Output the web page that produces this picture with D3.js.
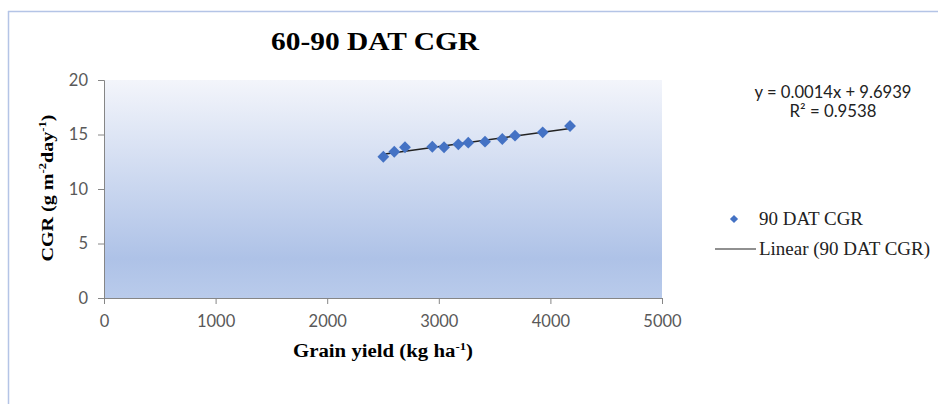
<!DOCTYPE html>
<html><head><meta charset="utf-8">
<script src="https://cdn.jsdelivr.net/npm/d3@7"></script>
<style>body{margin:0;background:#fff}svg{display:block}</style>
</head><body>
<svg id="c" width="938" height="404"></svg>
<script>
const grainYield = [2503, 2601, 2697, 2942, 3047, 3175, 3264, 3414, 3569, 3683, 3931, 4176];
const cgr = [12.96, 13.42, 13.83, 13.88, 13.83, 14.10, 14.25, 14.34, 14.59, 14.89, 15.20, 15.78];
const xTicks = [0, 1000, 2000, 3000, 4000, 5000];
const yTicks = [0, 5, 10, 15, 20];
const slope = 0.0014, intercept = 9.6939;
const equationLines = ["y = 0.0014x + 9.6939", "R² = 0.9538"];
const legendLabels = ["90 DAT CGR", "Linear (90 DAT CGR)"];

const svg = d3.select("#c");
const L = 104, R = 662, T = 80, B = 298;
const x = d3.scaleLinear().domain([0, 5000]).range([L, R]);
const y = d3.scaleLinear().domain([0, 20]).range([B, T]);

// outer border
svg.append("line").attr("x1", 8).attr("x2", 938).attr("y1", 11.5).attr("y2", 11.5).attr("stroke", "#b4c4e6").attr("stroke-width", 1.5);
svg.append("line").attr("x1", 8.5).attr("x2", 8.5).attr("y1", 11).attr("y2", 404).attr("stroke", "#b4c4e6").attr("stroke-width", 1.5);

const defs = svg.append("defs");
const g = defs.append("linearGradient").attr("id", "bg").attr("x1", 0).attr("x2", 0).attr("y1", 0).attr("y2", 1);
g.append("stop").attr("offset", "0%").attr("stop-color", "#f3f5fb");
g.append("stop").attr("offset", "82%").attr("stop-color", "#aec2e7");
g.append("stop").attr("offset", "100%").attr("stop-color", "#b9cbeb");
svg.append("rect").attr("x", L).attr("y", T).attr("width", R - L).attr("height", B - T).attr("fill", "url(#bg)");

const tickFont = "Lato, 'Open Sans', sans-serif";
const serif = "'Liberation Serif', 'DejaVu Serif', serif";
const xa = svg.append("g").attr("transform", `translate(0,${B})`)
  .call(d3.axisBottom(x).tickValues(xTicks).tickSize(6).tickPadding(11).tickFormat(d3.format("d")));
const ya = svg.append("g").attr("transform", `translate(${L},0)`)
  .call(d3.axisLeft(y).tickValues(yTicks).tickSize(6).tickPadding(10).tickFormat(d3.format("d")));
[xa, ya].forEach(a => {
  a.select(".domain").attr("stroke", "#868686");
  a.selectAll(".tick line").attr("stroke", "#868686");
  a.selectAll("text").attr("font-family", tickFont).attr("font-size", 16.5).attr("fill", "#595959");
});

// trend line
const xMin = d3.min(grainYield), xMax = d3.max(grainYield);
svg.append("line").attr("x1", x(xMin)).attr("y1", y(slope * xMin + intercept))
  .attr("x2", x(xMax)).attr("y2", y(slope * xMax + intercept))
  .attr("stroke", "#222").attr("stroke-width", 1.5);

// points
const diamond = d3.symbol().type(d3.symbolSquare).size(70);
svg.selectAll(".pt").data(grainYield).join("path")
  .attr("d", diamond)
  .attr("transform", (d, i) => `translate(${x(d)},${y(cgr[i])}) rotate(45)`)
  .attr("fill", "#4472c4");

const fit = "spacingAndGlyphs";
// title
svg.append("text").attr("x", 375).attr("y", 50).attr("text-anchor", "middle")
  .attr("font-family", serif).attr("font-weight", "bold").attr("font-size", 25)
  .attr("textLength", 208).attr("lengthAdjust", fit)
  .text("60-90 DAT CGR");

// x axis title
const xt = svg.append("text").attr("x", 383).attr("y", 357).attr("text-anchor", "middle")
  .attr("font-family", serif).attr("font-weight", "bold").attr("font-size", 18)
  .attr("textLength", 180).attr("lengthAdjust", fit);
xt.append("tspan").text("Grain yield (kg ha");
xt.append("tspan").attr("dy", -7).attr("font-size", 11).text("-1");
xt.append("tspan").attr("dy", 7).text(")");

// y axis title
const yt = svg.append("text").attr("transform", "translate(53,188) rotate(-90)").attr("text-anchor", "middle")
  .attr("font-family", serif).attr("font-weight", "bold").attr("font-size", 17.5)
  .attr("textLength", 147).attr("lengthAdjust", fit);
yt.append("tspan").text("CGR (g m");
yt.append("tspan").attr("dy", -7).attr("font-size", 11).text("-2");
yt.append("tspan").attr("dy", 7).text("day");
yt.append("tspan").attr("dy", -7).attr("font-size", 11).text("-1");
yt.append("tspan").attr("dy", 7).text(")");

// equation
const eqLen = [157, 87];
svg.selectAll(".eq").data(equationLines).join("text")
  .attr("x", 833).attr("y", (d, i) => 98 + i * 19).attr("text-anchor", "middle")
  .attr("font-family", tickFont).attr("font-size", 16.5).attr("fill", "#222")
  .attr("textLength", (d, i) => eqLen[i]).attr("lengthAdjust", fit)
  .text(d => d);

// legend
svg.append("path").attr("d", d3.symbol().type(d3.symbolSquare).size(34))
  .attr("transform", "translate(734,219) rotate(45)").attr("fill", "#4472c4");
svg.append("line").attr("x1", 715).attr("x2", 756).attr("y1", 249).attr("y2", 249).attr("stroke", "#222").attr("stroke-width", 1.2);
const lgLen = [104, 171];
svg.selectAll(".lg").data(legendLabels).join("text")
  .attr("x", 759).attr("y", (d, i) => 225 + i * 30)
  .attr("font-family", serif).attr("font-size", 18).attr("fill", "#222")
  .attr("textLength", (d, i) => lgLen[i]).attr("lengthAdjust", fit)
  .text(d => d);
</script>
</body></html>
